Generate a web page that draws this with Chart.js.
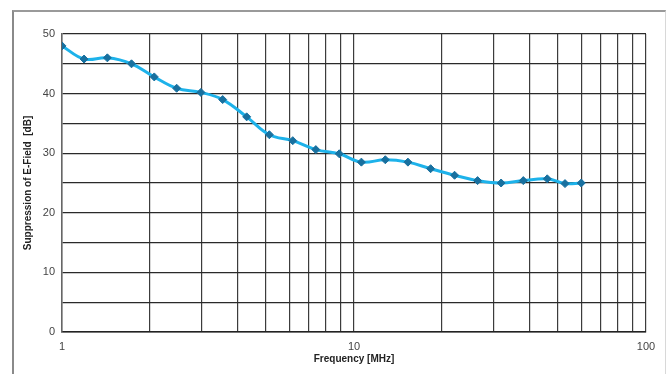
<!DOCTYPE html>
<html>
<head>
<meta charset="utf-8">
<script src="https://cdn.jsdelivr.net/npm/chart.js@4/dist/chart.umd.min.js"></script>
<style>
  html, body { margin: 0; padding: 0; background: #fff; }
  #wrap { position: relative; width: 666px; height: 374px; overflow: hidden; }
  #frame { position: absolute; left: 12px; top: 10px; width: 654px; height: 380px;
           border-top: 2px solid #9a9a9a; border-left: 2px solid #8a8a8a; border-right: 1px solid #d8d8d8; box-sizing: border-box; }
  canvas { position: absolute; left: 0; top: 0; }
</style>
</head>
<body>
<div id="wrap">
  <div id="frame"></div>
  <canvas id="c" width="666" height="374"></canvas>
</div>
<script>
const frequencyMHz = [1, 1.19, 1.43, 1.73, 2.07, 2.47, 2.99, 3.55, 4.29, 5.13, 6.17, 7.4, 8.9, 10.6, 12.8, 15.3, 18.3, 22.1, 26.5, 31.9, 38.0, 45.9, 52.8, 60];
const suppressionDb = [48.0, 45.8, 46.0, 45.0, 42.8, 40.9, 40.2, 39.0, 36.1, 33.1, 32.1, 30.6, 29.9, 28.5, 28.9, 28.5, 27.4, 26.3, 25.4, 25.0, 25.4, 25.7, 24.9, 25.0];
const xGridValues = [1,2,3,4,5,6,7,8,9,10,20,30,40,50,60,70,80,90,100];
const xTickLabels = {1: '1', 10: '10', 100: '100'};
const yTickLabels = {0: '0', 10: '10', 20: '20', 30: '30', 40: '40', 50: '50'};

const points = frequencyMHz.map((f, i) => ({x: f, y: suppressionDb[i]}));

new Chart(document.getElementById('c'), {
  type: 'line',
  data: {
    datasets: [{
      data: points,
      borderColor: '#1db2ea',
      borderWidth: 3,
      tension: 0.4,
      pointStyle: 'rectRot',
      pointRadius: 4,
      pointBackgroundColor: '#18709f',
      pointBorderColor: '#18709f',
      pointBorderWidth: 1,
      fill: false
    }]
  },
  options: {
    responsive: false,
    animation: false,
    layout: { padding: { top: 34, right: 20, left: 0, bottom: 0 } },
    plugins: { legend: { display: false }, tooltip: { enabled: false } },
    scales: {
      x: {
        type: 'logarithmic',
        min: 1, max: 100,
        afterBuildTicks: s => { s.ticks = xGridValues.map(v => ({value: v})); },
        afterFit: s => { s.height = 42; },
        grid: { color: '#3c3c3c', lineWidth: 1.2, drawTicks: false },
        border: { color: '#222', width: 1.5 },
        ticks: {
          autoSkip: false, maxRotation: 0, padding: 8,
          color: '#444',
          font: { family: 'Liberation Sans, Arial, sans-serif', size: 11 },
          callback: v => xTickLabels[v] || ''
        },
        title: {
          display: true, text: 'Frequency [MHz]', color: '#222',
          font: { family: 'Liberation Sans, Arial, sans-serif', size: 10, weight: 'bold' },
          padding: { top: 0, bottom: 9 }
        }
      },
      y: {
        type: 'linear',
        min: 0, max: 50,
        afterFit: s => { s.width = 62; },
        grid: { color: '#2a2a2a', lineWidth: 1.2, drawTicks: false },
        border: { color: '#666', width: 1.5 },
        ticks: {
          stepSize: 5, padding: 7, color: '#444',
          font: { family: 'Liberation Sans, Arial, sans-serif', size: 11 },
          callback: v => yTickLabels[v] || ''
        },
        title: {
          display: true, text: 'Suppression of E-Field  [dB]', color: '#222',
          font: { family: 'Liberation Sans, Arial, sans-serif', size: 10, weight: 'bold' },
          padding: { top: 22, bottom: 0 }
        }
      }
    }
  }
});
</script>
</body>
</html>
